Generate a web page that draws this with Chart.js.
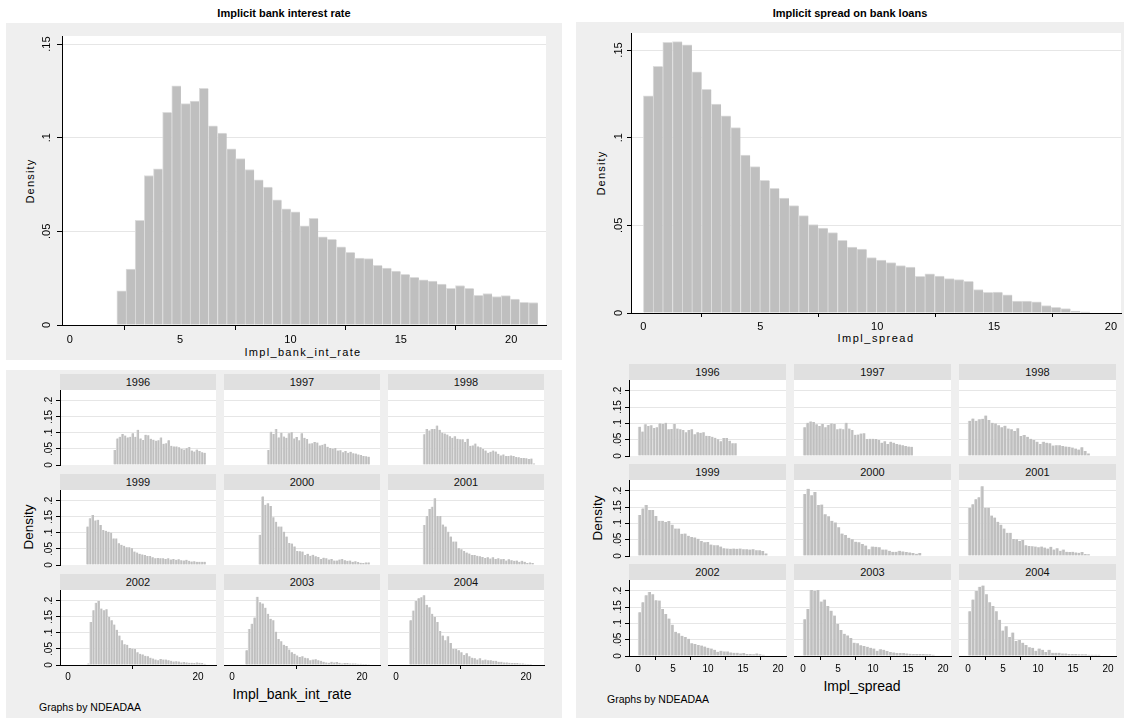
<!DOCTYPE html>
<html lang="en">
<head>
<meta charset="UTF-8">
<title>Implicit bank interest rate and spread</title>
<script src="https://cdn.jsdelivr.net/npm/chart.js"></script>
<style>
  body { margin: 0; background: #fff; font-family: Arial, "Liberation Sans", Helvetica, sans-serif; }
  #page { position: relative; width: 1129px; height: 720px; overflow: hidden; }
  .panel { position: absolute; background: #efefef; }
  .strip { position: absolute; background: #e0e0e0; text-align: center; font-size: 11px; color: #111; }
  .title { position: absolute; text-align: center; font-weight: bold; font-size: 11px; color: #000; line-height: 16px; }
  .lbl { position: absolute; white-space: nowrap; color: #000; transform: translate(-50%, -50%); }
  .rot { transform: translate(-50%, -50%) rotate(-90deg); }
  .note { position: absolute; white-space: nowrap; font-size: 10.5px; color: #000; transform: translateY(-50%); }
  canvas { position: absolute; }
</style>
</head>
<body>
<div id="page">
  <div class="panel" style="left:6px;top:23px;width:556px;height:337px"></div>
  <div class="panel" style="left:6px;top:370px;width:556px;height:348px"></div>
  <div class="panel" style="left:576px;top:22px;width:548px;height:696px"></div>

  <div class="title" style="left:6px;top:5px;width:556px">Implicit bank interest rate</div>
  <div class="title" style="left:576px;top:5px;width:548px">Implicit spread on bank loans</div>

  <div class="lbl rot" style="left:30px;top:181px;font-size:11px;letter-spacing:1.2px">Density</div>
  <div class="lbl" style="left:303px;top:352px;font-size:11px;letter-spacing:1.3px">Impl_bank_int_rate</div>
  <div class="lbl rot" style="left:601px;top:173px;font-size:11px;letter-spacing:1.2px">Density</div>
  <div class="lbl" style="left:876px;top:338px;font-size:11px;letter-spacing:1.5px">Impl_spread</div>

  <div class="lbl rot" style="left:28px;top:527px;font-size:13.5px">Density</div>
  <div class="lbl" style="left:292px;top:694px;font-size:14px">Impl_bank_int_rate</div>
  <div class="note" style="left:39px;top:707px">Graphs by NDEADAA</div>

  <div class="lbl rot" style="left:597px;top:518px;font-size:13.5px">Density</div>
  <div class="lbl" style="left:862px;top:686px;font-size:14px">Impl_spread</div>
  <div class="note" style="left:607px;top:699px">Graphs by NDEADAA</div>
</div>

<script>
// pooled histograms: first bin edge, last bin edge, density of each bin
var rateRange = [2.136, 21.21];
var rateDensity = [0.0182, 0.0298, 0.0559, 0.0798, 0.0834, 0.1136, 0.1277, 0.1182, 0.1195, 0.1263,
    0.1064, 0.1025, 0.0941, 0.0888, 0.0830, 0.0775, 0.0736, 0.0668, 0.0620, 0.0604,
    0.0530, 0.0570, 0.0471, 0.0457, 0.0418, 0.0388, 0.0357, 0.0354, 0.0318, 0.0304,
    0.0288, 0.0271, 0.0254, 0.0241, 0.0234, 0.0218, 0.0196, 0.0211, 0.0196, 0.0159,
    0.0168, 0.0152, 0.0157, 0.0138, 0.0121, 0.0120];

var spreadRange = [0, 19.1];
var spreadDensity = [0.1238, 0.1407, 0.1544, 0.1548, 0.1530, 0.1376, 0.1276, 0.1192, 0.1124, 0.1057,
    0.0901, 0.0835, 0.0757, 0.0711, 0.0656, 0.0612, 0.0555, 0.0504, 0.0485, 0.0458,
    0.0414, 0.0376, 0.0365, 0.0316, 0.0302, 0.0287, 0.0270, 0.0262, 0.0209, 0.0224,
    0.0211, 0.0196, 0.0190, 0.0181, 0.0133, 0.0118, 0.0120, 0.0103, 0.0068, 0.0068,
    0.0063, 0.0042, 0.0032, 0.0025, 0.0011, 0.0006];

var years = ['1996', '1997', '1998', '1999', '2000', '2001', '2002', '2003', '2004'];

// by-year histograms of the interest rate
var rateStart = [7.0, 5.4, 4.15, 2.8, 4.1, 4.15, 2.92, 2.05, 2.05];
var rateEnd = [21.2, 21.2, 21.4, 21.2, 21.2, 21.2, 21.2, 21.2, 20.9];
var rate1996 = [0.047, 0.083, 0.088, 0.097, 0.092, 0.086, 0.088, 0.099, 0.088, 0.110, 0.083, 0.078, 0.094, 0.093, 0.082, 0.079, 0.076, 0.077,
    0.086, 0.066, 0.068, 0.077, 0.060, 0.058, 0.058, 0.055, 0.050, 0.048, 0.052, 0.056, 0.045, 0.042, 0.048, 0.044, 0.040, 0.038];
var rate1997 = [0.047, 0.104, 0.097, 0.112, 0.086, 0.101, 0.089, 0.085, 0.099, 0.102, 0.083, 0.087, 0.077, 0.099, 0.085, 0.081, 0.067, 0.068, 0.072, 0.070,
    0.061, 0.063, 0.066, 0.057, 0.053, 0.051, 0.053, 0.045, 0.046, 0.040, 0.044, 0.038, 0.041, 0.037, 0.036, 0.033, 0.031, 0.028, 0.027, 0.026];
var rate1998 = [0.096, 0.112, 0.108, 0.112, 0.112, 0.123, 0.110, 0.101, 0.098, 0.095, 0.090, 0.085, 0.090, 0.082, 0.080, 0.080, 0.072, 0.082, 0.060, 0.061, 0.067, 0.058,
    0.055, 0.050, 0.045, 0.038, 0.041, 0.045, 0.042, 0.035, 0.030, 0.033, 0.028, 0.028, 0.030, 0.028, 0.025, 0.024, 0.022, 0.022, 0.021, 0.019, 0.020, 0.005];
var rate1999 = [0.120, 0.146, 0.156, 0.139, 0.141, 0.125, 0.109, 0.107, 0.104, 0.101, 0.083, 0.083, 0.068, 0.063, 0.060, 0.055, 0.055, 0.052, 0.042, 0.039, 0.035, 0.033, 0.031,
    0.028, 0.028, 0.024, 0.021, 0.022, 0.021, 0.021, 0.019, 0.021, 0.017, 0.019, 0.016, 0.018, 0.015, 0.014, 0.016, 0.013, 0.011, 0.012, 0.010, 0.010, 0.010, 0.010];
var rate2000 = [0.094, 0.214, 0.188, 0.193, 0.184, 0.149, 0.135, 0.120, 0.120, 0.104, 0.089, 0.069, 0.067, 0.058, 0.044, 0.043, 0.042, 0.031, 0.035, 0.029, 0.032,
    0.027, 0.025, 0.019, 0.023, 0.021, 0.017, 0.019, 0.014, 0.014, 0.017, 0.019, 0.015, 0.013, 0.014, 0.010, 0.012, 0.009, 0.007, 0.006, 0.008, 0.008];
var rate2001 = [0.125, 0.153, 0.175, 0.182, 0.208, 0.153, 0.153, 0.126, 0.120, 0.104, 0.089, 0.073, 0.073, 0.052, 0.049, 0.044, 0.039, 0.036, 0.031, 0.031, 0.029,
    0.027, 0.025, 0.022, 0.024, 0.020, 0.024, 0.019, 0.021, 0.018, 0.019, 0.014, 0.018, 0.015, 0.013, 0.014, 0.010, 0.013, 0.010, 0.006, 0.008, 0.006];
var rate2002 = [0.005, 0.134, 0.171, 0.194, 0.200, 0.176, 0.171, 0.174, 0.150, 0.140, 0.126, 0.110, 0.092, 0.077, 0.065, 0.063, 0.053, 0.051, 0.050, 0.040, 0.035, 0.033, 0.029,
    0.027, 0.023, 0.020, 0.017, 0.015, 0.019, 0.017, 0.017, 0.015, 0.013, 0.011, 0.012, 0.011, 0.008, 0.009, 0.008, 0.007, 0.007, 0.006, 0.008, 0.007, 0.006, 0.004];
var rate2003 = [0.046, 0.112, 0.129, 0.148, 0.213, 0.196, 0.192, 0.179, 0.160, 0.144, 0.140, 0.104, 0.081, 0.074, 0.063, 0.059, 0.048, 0.040, 0.035, 0.030, 0.025, 0.027, 0.023, 0.021,
    0.015, 0.017, 0.018, 0.015, 0.013, 0.010, 0.008, 0.007, 0.010, 0.008, 0.009, 0.007, 0.005, 0.006, 0.006, 0.005, 0.005, 0.005, 0.004, 0.004, 0.003, 0.003, 0.002];
var rate2004 = [0.140, 0.170, 0.200, 0.208, 0.211, 0.218, 0.188, 0.180, 0.160, 0.150, 0.134, 0.106, 0.092, 0.077, 0.090, 0.069, 0.050, 0.050, 0.046, 0.040, 0.031, 0.037, 0.027,
    0.023, 0.021, 0.017, 0.021, 0.015, 0.017, 0.015, 0.015, 0.013, 0.013, 0.010, 0.010, 0.008, 0.008, 0.007, 0.006, 0.006, 0.006, 0.005, 0.005, 0.004, 0.003, 0.003];
var rateByYear = [rate1996, rate1997, rate1998, rate1999, rate2000, rate2001, rate2002, rate2003, rate2004];

// by-year histograms of the spread
var spreadStart = [0, 0, 0, 0, 0, 0, 0, 0, 0];
var spreadEnd = [14.1, 15.7, 17.4, 18.5, 16.9, 17.4, 18.1, 18.8, 18.9];
var spread1996 = [0.090, 0.075, 0.097, 0.092, 0.094, 0.086, 0.088, 0.100, 0.098, 0.102, 0.082, 0.083, 0.098, 0.084, 0.082, 0.080, 0.073,
    0.080, 0.082, 0.067, 0.073, 0.071, 0.073, 0.062, 0.061, 0.059, 0.056, 0.051, 0.045, 0.055, 0.055, 0.047, 0.039, 0.039];
var spread1997 = [0.088, 0.102, 0.106, 0.104, 0.097, 0.092, 0.098, 0.088, 0.095, 0.100, 0.098, 0.082, 0.084, 0.082, 0.102, 0.084, 0.080, 0.065, 0.066,
    0.069, 0.070, 0.052, 0.053, 0.053, 0.052, 0.049, 0.041, 0.045, 0.037, 0.044, 0.041, 0.037, 0.035, 0.033, 0.031, 0.029, 0.028];
var spread1998 = [0.108, 0.115, 0.108, 0.113, 0.114, 0.124, 0.110, 0.102, 0.100, 0.094, 0.088, 0.093, 0.084, 0.082, 0.077, 0.085, 0.061, 0.064, 0.059,
    0.053, 0.049, 0.044, 0.037, 0.044, 0.041, 0.039, 0.032, 0.033, 0.033, 0.031, 0.029, 0.028, 0.026, 0.023, 0.020, 0.027, 0.015, 0.008];
var spread1999 = [0.126, 0.146, 0.156, 0.141, 0.141, 0.123, 0.108, 0.108, 0.104, 0.107, 0.096, 0.084, 0.084, 0.068, 0.069, 0.062, 0.058, 0.057, 0.053, 0.046,
    0.042, 0.043, 0.035, 0.033, 0.033, 0.029, 0.024, 0.023, 0.022, 0.023, 0.022, 0.023, 0.021, 0.021, 0.020, 0.021, 0.018, 0.018, 0.015, 0.008];
var spread2000 = [0.190, 0.206, 0.186, 0.196, 0.156, 0.158, 0.128, 0.122, 0.108, 0.103, 0.088, 0.069, 0.064, 0.056, 0.051, 0.044, 0.042, 0.037,
    0.032, 0.021, 0.029, 0.028, 0.027, 0.020, 0.020, 0.016, 0.013, 0.013, 0.016, 0.014, 0.012, 0.011, 0.009, 0.007, 0.009];
var spread2001 = [0.148, 0.159, 0.174, 0.180, 0.214, 0.148, 0.148, 0.124, 0.118, 0.105, 0.096, 0.084, 0.071, 0.071, 0.052, 0.051, 0.046, 0.049, 0.033, 0.031,
    0.030, 0.029, 0.027, 0.029, 0.026, 0.023, 0.028, 0.020, 0.024, 0.016, 0.020, 0.013, 0.012, 0.013, 0.011, 0.010, 0.012, 0.006, 0.005];
var spread2002 = [0.134, 0.165, 0.186, 0.196, 0.189, 0.171, 0.170, 0.144, 0.129, 0.115, 0.096, 0.074, 0.070, 0.062, 0.058, 0.053, 0.039, 0.037, 0.034, 0.032,
    0.029, 0.025, 0.023, 0.019, 0.013, 0.016, 0.014, 0.014, 0.011, 0.010, 0.010, 0.008, 0.009, 0.006, 0.006, 0.005, 0.008, 0.005, 0.004];
var spread2003 = [0.113, 0.144, 0.202, 0.200, 0.202, 0.167, 0.173, 0.153, 0.139, 0.124, 0.098, 0.080, 0.068, 0.063, 0.055, 0.041, 0.039, 0.033, 0.031, 0.028,
    0.025, 0.023, 0.016, 0.021, 0.019, 0.015, 0.012, 0.011, 0.009, 0.009, 0.009, 0.008, 0.007, 0.006, 0.006, 0.006, 0.006, 0.005, 0.005, 0.004];
var spread2004 = [0.137, 0.173, 0.199, 0.212, 0.216, 0.189, 0.165, 0.153, 0.137, 0.111, 0.078, 0.091, 0.058, 0.072, 0.046, 0.049, 0.041, 0.034, 0.027, 0.025,
    0.016, 0.023, 0.019, 0.012, 0.019, 0.010, 0.010, 0.010, 0.008, 0.008, 0.006, 0.006, 0.006, 0.005, 0.005, 0.005, 0.004, 0.004, 0.004, 0.004];
var spreadByYear = [spread1996, spread1997, spread1998, spread1999, spread2000, spread2001, spread2002, spread2003, spread2004];

// axis ticks
var bigXTicks = [0, 5, 10, 15, 20];
var bigYTicks = [0, 0.05, 0.1, 0.15];
var smallYTicks = [0, 0.05, 0.1, 0.15, 0.2];
var rateSmallXTicks = [0, 20];
var spreadSmallXTicks = [0, 5, 10, 15, 20];

Chart.defaults.font.family = 'Arial, "Liberation Sans", Helvetica, sans-serif';
Chart.defaults.color = '#000';

var plotBackground = {
    id: 'plotBackground',
    beforeDraw: function (chart) {
        var a = chart.chartArea;
        var ctx = chart.ctx;
        ctx.save();
        ctx.fillStyle = '#fff';
        ctx.fillRect(a.left, a.top, a.right - a.left, a.bottom - a.top);
        ctx.restore();
    }
};

// Stata style labels: 0, .05, .1, .15
function densityLabel(v) {
    if (v === 0) return '0';
    return String(+v.toFixed(2)).replace(/^0/, '');
}

function drawHistogram(o) {
    var AXW = 40, AXH = 30, PAD = 4;
    var canvas = document.createElement('canvas');
    canvas.width = AXW + o.w + PAD;
    canvas.height = PAD + o.h + AXH;
    canvas.style.left = (o.x - AXW) + 'px';
    canvas.style.top = (o.y - PAD) + 'px';
    document.getElementById('page').appendChild(canvas);

    var bw = (o.end - o.start) / o.values.length;
    var points = o.values.map(function (v, i) {
        return { x: o.start + (i + 0.5) * bw, y: v };
    });
    var font = { size: o.fontSize };

    return new Chart(canvas.getContext('2d'), {
        type: 'bar',
        data: {
            datasets: [{
                data: points,
                backgroundColor: '#bfbfbf',
                borderColor: '#dddddd',
                borderWidth: o.edge,
                borderSkipped: 'bottom',
                barPercentage: 1,
                categoryPercentage: 1
            }]
        },
        options: {
            responsive: false,
            animation: false,
            events: [],
            layout: { padding: { top: PAD, right: PAD, left: 0, bottom: 0 } },
            plugins: { legend: { display: false }, tooltip: { enabled: false } },
            scales: {
                x: {
                    type: 'linear',
                    min: o.xMin,
                    max: o.xMax,
                    offset: false,
                    afterBuildTicks: function (s) { s.ticks = o.xTicks.map(function (v) { return { value: v }; }); },
                    afterFit: function (s) { s.height = AXH; s.paddingLeft = 0; s.paddingRight = 0; },
                    grid: { display: o.showX, drawOnChartArea: false, tickLength: o.tickLen, tickColor: '#000' },
                    border: { display: o.showX, color: '#000', z: 1 },
                    ticks: {
                        display: o.showX, font: font, padding: o.xPad, maxRotation: 0, autoSkip: false,
                        callback: function (v) { return String(v); }
                    }
                },
                y: {
                    min: 0,
                    max: o.yMax,
                    afterBuildTicks: function (s) { s.ticks = o.yTicks.map(function (v) { return { value: v }; }); },
                    afterFit: function (s) { s.width = AXW; s.paddingTop = 0; s.paddingBottom = 0; },
                    grid: {
                        color: function (c) { return c.tick && c.tick.value === 0 ? 'rgba(0,0,0,0)' : '#e6e6e6'; },
                        drawTicks: o.showY, tickLength: o.tickLen, tickColor: '#000'
                    },
                    border: { display: o.showY, color: '#000', z: 1 },
                    ticks: {
                        display: o.showY, font: font, padding: o.yPad, minRotation: 90, maxRotation: 90,
                        crossAlign: 'center', autoSkip: false, callback: densityLabel
                    }
                }
            }
        },
        plugins: [plotBackground]
    });
}

function addStrip(x, y, w, h, text) {
    var d = document.createElement('div');
    d.className = 'strip';
    d.style.left = x + 'px';
    d.style.top = y + 'px';
    d.style.width = w + 'px';
    d.style.height = h + 'px';
    d.style.lineHeight = h + 'px';
    d.textContent = text;
    document.getElementById('page').appendChild(d);
}

function drawGrid(g) {
    for (var k = 0; k < years.length; k++) {
        var r = Math.floor(k / 3), c = k % 3;
        addStrip(g.colX[c], g.rowY[r] - 16, g.w, 16, years[k]);
        drawHistogram({
            x: g.colX[c], y: g.rowY[r], w: g.w, h: g.h,
            xMin: g.xMin, xMax: g.xMax, yMax: g.yMax,
            xTicks: g.xTicks, yTicks: smallYTicks,
            showX: r === 2, showY: c === 0,
            start: g.start[k], end: g.end[k], values: g.values[k],
            fontSize: 10, xPad: g.xPad, yPad: 0, tickLen: 4,
            edge: { left: 1, top: 0, right: 0, bottom: 0 }
        });
    }
}

window.onload = function () {
    drawHistogram({
        x: 62, y: 36, w: 484, h: 289,
        xMin: -0.35, xMax: 21.58, yMax: 0.1543,
        xTicks: bigXTicks, yTicks: bigYTicks, showX: true, showY: true,
        start: rateRange[0], end: rateRange[1], values: rateDensity,
        fontSize: 11, xPad: 3, yPad: 2, tickLen: 5,
        edge: { left: 1, top: 1, right: 0, bottom: 0 }
    });
    drawHistogram({
        x: 631, y: 33, w: 490, h: 280,
        xMin: -0.53, xMax: 20.43, yMax: 0.1597,
        xTicks: bigXTicks, yTicks: bigYTicks, showX: true, showY: true,
        start: spreadRange[0], end: spreadRange[1], values: spreadDensity,
        fontSize: 11, xPad: 3, yPad: 0, tickLen: 4,
        edge: { left: 1, top: 1, right: 0, bottom: 0 }
    });

    drawGrid({
        colX: [60, 224, 388], rowY: [390, 490, 590], w: 156, h: 75,
        xMin: -1.23, xMax: 22.77, yMax: 0.234, xTicks: rateSmallXTicks, xPad: 2,
        start: rateStart, end: rateEnd, values: rateByYear
    });
    drawGrid({
        colX: [629, 794, 959], rowY: [380, 480, 580], w: 157, h: 76,
        xMin: -1.29, xMax: 21.14, yMax: 0.233, xTicks: spreadSmallXTicks, xPad: 3,
        start: spreadStart, end: spreadEnd, values: spreadByYear
    });
};
</script>
</body>
</html>
